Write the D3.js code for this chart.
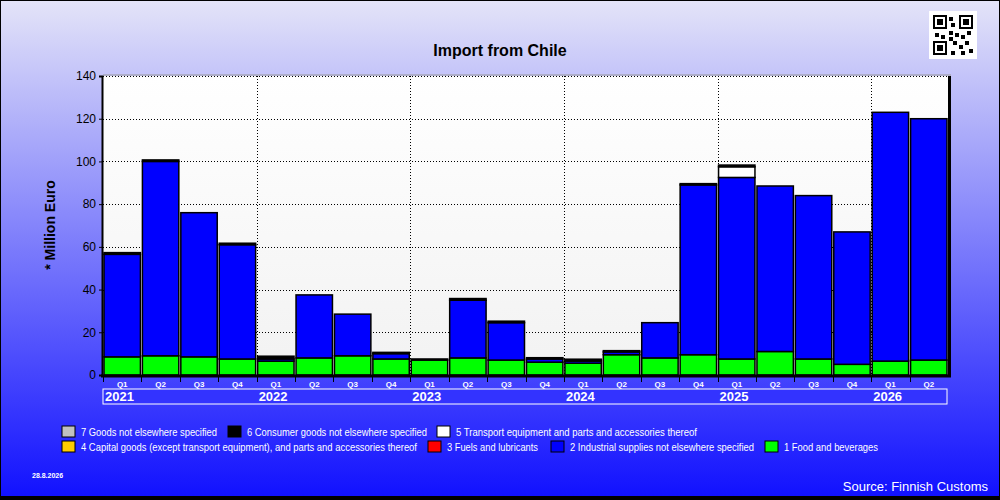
<!DOCTYPE html>
<html><head><meta charset="utf-8">
<script src="https://cdn.jsdelivr.net/npm/d3@7"></script>
<style>body{margin:0}svg{display:block;font-family:Arial,"Liberation Sans",sans-serif}</style>
</head><body><svg id="c" width="1000" height="500"></svg>
<script>
const quarters = ["2021Q1","2021Q2","2021Q3","2021Q4","2022Q1","2022Q2","2022Q3","2022Q4","2023Q1","2023Q2","2023Q3","2023Q4","2024Q1","2024Q2","2024Q3","2024Q4","2025Q1","2025Q2","2025Q3","2025Q4","2026Q1","2026Q2"];
const food =      [8.5,9,8.5,7.5,6.5,8,9,7.5,7,8,7,6,5.5,9.5,8,9.5,7.5,11,7.5,5,6.5,7];
const industrial =[48,91,67.5,53.5,1,29.5,19.5,2.5,0.5,27,17.5,1.5,1,1.3,16.5,79.5,85,77.5,76.5,62,116.5,113];
const fuels =     [0,0,0,0,0,0,0,0,0,0,0,0,0,0,0,0,0,0,0,0,0,0];
const capital =   [0,0,0,0,0,0,0,0,0,0,0,0,0.6,0,0,0,0,0,0,0,0,0];
const transport = [0,0,0,0,0,0,0,0,0,0,0,0,0,0,0,0,5,0,0,0,0,0];
const consumer =  [0.8,0.7,0,0.7,1.3,0,0,0.6,0,0.8,0.7,0.6,0.3,0.6,0,0.6,0.8,0,0,0,0,0];
const other =     [0,0,0,0,0,0,0,0,0,0,0,0,0,0,0,0,0,0,0,0,0,0];
const yTicks = [0,20,40,60,80,100,120,140];

const series = [
  {name:"1 Food and beverages", v:food, c:"#00ff00"},
  {name:"2 Industrial supplies not elsewhere specified", v:industrial, c:"#0000ff"},
  {name:"3 Fuels and lubricants", v:fuels, c:"#ff0000"},
  {name:"4 Capital goods (except transport equipment), and parts and accessories thereof", v:capital, c:"#ffcc00"},
  {name:"5  Transport equipment and parts and accessories thereof", v:transport, c:"#ffffff"},
  {name:"6 Consumer goods not elsewhere specified", v:consumer, c:"#000000"},
  {name:"7 Goods not elsewhere specified", v:other, c:"#c0c0c0"}
];

const svg = d3.select("#c");
const defs = svg.append("defs");
const bg = defs.append("linearGradient").attr("id","bg").attr("x1",0).attr("y1",0).attr("x2",0).attr("y2",1);
bg.append("stop").attr("offset","0%").attr("stop-color","#e4e4f8");
bg.append("stop").attr("offset","100%").attr("stop-color","#1010ff");
const pg = defs.append("linearGradient").attr("id","pg").attr("x1",0).attr("y1",0).attr("x2",0).attr("y2",1);
pg.append("stop").attr("offset","0%").attr("stop-color","#ffffff");
pg.append("stop").attr("offset","100%").attr("stop-color","#f2f2f2");

svg.append("rect").attr("x",0.5).attr("y",0.5).attr("width",999).attr("height",499).attr("fill","url(#bg)").attr("stroke","#000");
svg.append("rect").attr("x",1).attr("y",496).attr("width",998).attr("height",4).attr("fill","#000");

const L=103, R=948, T=76, B=375;
const x = d3.scaleBand().domain(quarters).range([L,R]).padding(0);
const y = d3.scaleLinear().domain([0,140]).range([B,T]);

svg.append("rect").attr("x",L).attr("y",T).attr("width",R-L).attr("height",B-T).attr("fill","url(#pg)");
svg.append("line").attr("x1",R+1.5).attr("x2",R+1.5).attr("y1",T).attr("y2",B).attr("stroke","#000").attr("stroke-width",3);
svg.append("line").attr("x1",L).attr("x2",R+3).attr("y1",T-1).attr("y2",T-1).attr("stroke","#999");

// grid
svg.append("g").selectAll("line").data(yTicks.slice(1)).join("line")
  .attr("x1",L).attr("x2",R).attr("y1",d=>Math.round(y(d))+0.5).attr("y2",d=>Math.round(y(d))+0.5)
  .attr("stroke","#000").attr("stroke-dasharray","1,2");
const yearStarts = quarters.filter(q=>q.endsWith("Q1"));
svg.append("g").selectAll("line").data(yearStarts.slice(1)).join("line")
  .attr("x1",d=>Math.round(x(d))+0.5).attr("x2",d=>Math.round(x(d))+0.5).attr("y1",T).attr("y2",B)
  .attr("stroke","#000").attr("stroke-dasharray","1,2");

// stacks
const stackData = quarters.map((q,i)=>{const o={q}; series.forEach(s=>o[s.name]=s.v[i]); return o;});
const stack = d3.stack().keys(series.map(s=>s.name))(stackData);
stack.forEach((layer,k)=>{
  svg.append("g").selectAll("rect").data(layer.filter(d=>d[1]-d[0]>0)).join("rect")
    .attr("x",d=>x(d.data.q)+1).attr("width",x.bandwidth()-2)
    .attr("y",d=>y(d[1])).attr("height",d=>y(d[0])-y(d[1]))
    .attr("fill",series[k].c).attr("stroke","#000").attr("stroke-width",1.5);
});

// axes
const ya = svg.append("g").attr("transform",`translate(${L-1},0)`)
  .call(d3.axisLeft(y).tickValues(yTicks).tickSize(3));
ya.select(".domain").attr("stroke","#000").attr("stroke-width",2);
ya.selectAll("text").attr("font-size",12).attr("fill","#000");
svg.append("line").attr("x1",L-2).attr("x2",R+3).attr("y1",B+1).attr("y2",B+1).attr("stroke","#000").attr("stroke-width",3);

const xa = svg.append("g").attr("transform",`translate(0,${B+2})`)
  .call(d3.axisBottom(x).tickSize(0).tickFormat(d=>d.slice(4)));
xa.select(".domain").remove();
xa.selectAll("text").attr("font-size",8).attr("font-weight","bold").attr("fill","#fff").attr("dy","0.9em");
svg.append("g").selectAll("line").data(quarters).join("line")
  .attr("x1",d=>Math.round(x(d))+0.5).attr("x2",d=>Math.round(x(d))+0.5).attr("y1",B+2).attr("y2",B+7).attr("stroke","#000");

svg.append("rect").attr("x",L).attr("y",389).attr("width",R-L-1).attr("height",15).attr("fill","#3333ff").attr("stroke","#fff");
svg.append("g").selectAll("text").data(yearStarts).join("text")
  .attr("x",d=>x(d)+2).attr("y",401).text(d=>d.slice(0,4))
  .attr("fill","#fff").attr("font-weight","bold").attr("font-size",13);

svg.append("text").attr("x",500).attr("y",56).attr("text-anchor","middle").attr("font-size",16).attr("font-weight","bold").text("Import from Chile");
svg.append("text").attr("transform","translate(55,225) rotate(-90)").attr("text-anchor","middle").attr("font-size",14).attr("font-weight","bold").text("* Million Euro");

// legend: [series index, box x, y, text width]
const leg = [[6,62,432,136],[5,228,432,180],[4,437,432,241],[3,62,447,336],[2,428,447,91],[1,551,447,184],[0,765,447,94]];
leg.forEach(([k,lx,ly,w])=>{
  svg.append("rect").attr("x",lx).attr("y",ly-6).attr("width",13).attr("height",11).attr("fill",series[k].c).attr("stroke","#000");
  svg.append("text").attr("x",lx+19).attr("y",ly+4).attr("font-size",10).attr("fill","#fff").text(series[k].name)
    .attr("textLength",w).attr("lengthAdjust","spacingAndGlyphs");
});

svg.append("text").attr("x",32).attr("y",478).attr("font-size",7).attr("fill","#fff").attr("font-weight","bold").text("28.8.2026");
svg.append("text").attr("x",988).attr("y",491).attr("text-anchor","end").attr("font-size",13).attr("fill","#fff").text("Source: Finnish Customs");

// QR-like badge
const qr = svg.append("g").attr("transform","translate(929,11)");
qr.append("rect").attr("width",48).attr("height",48).attr("fill","#fff");
[[4,4],[30,4],[4,30]].forEach(([a,b])=>{
  qr.append("rect").attr("x",a).attr("y",b).attr("width",14).attr("height",14).attr("fill","#000");
  qr.append("rect").attr("x",a+2).attr("y",b+2).attr("width",10).attr("height",10).attr("fill","#fff");
  qr.append("rect").attr("x",a+4).attr("y",b+4).attr("width",6).attr("height",6).attr("fill","#000");
});
[[20,6],[22,12],[20,20],[26,22],[32,24],[38,20],[24,30],[30,34],[36,30],[40,38],[22,40],[32,40],[20,26],[6,22],[12,24]].forEach(([a,b])=>{
  qr.append("rect").attr("x",a).attr("y",b).attr("width",4).attr("height",4).attr("fill","#000");
});
</script></body></html>
